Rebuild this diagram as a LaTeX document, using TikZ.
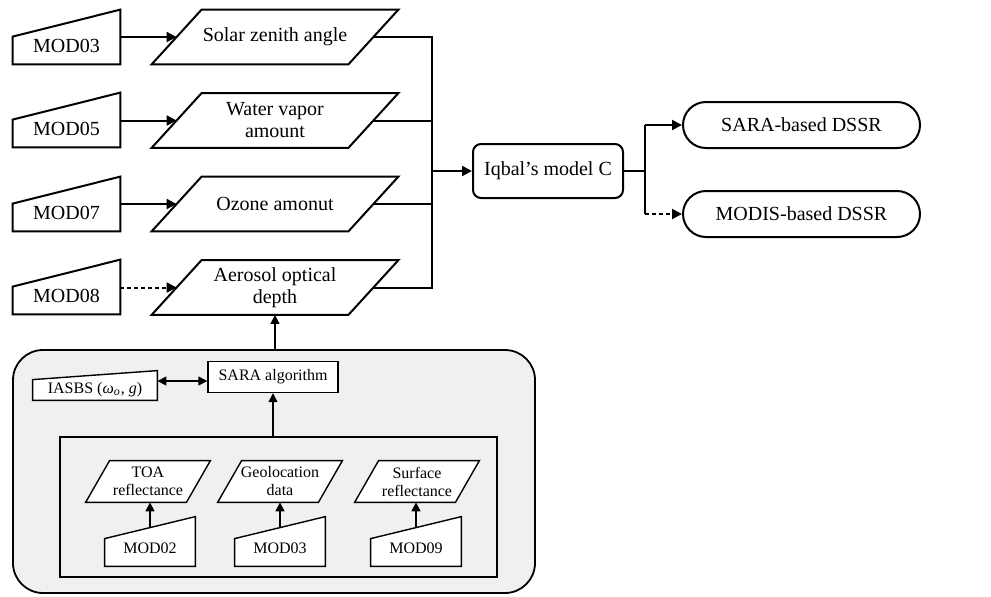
\documentclass[tikz,border=0pt]{standalone}
\usepackage{fontspec}
\setmainfont{Liberation Serif}
\usetikzlibrary{arrows.meta}

\pgfdeclarelayer{back}
\pgfdeclarelayer{edges}
\pgfdeclarelayer{shapes}
\pgfsetlayers{back,edges,shapes,main}

% manual input outline drawn round a named node
\newcommand\manin[3]{\filldraw[fill=white] (#1.south west) -- (#1.south east) -- ([yshift=#2]#1.north east) -- ([yshift=-#3]#1.north west) -- cycle;}
% parallelogram outline drawn round a named node
\newcommand\slant[2]{\filldraw[fill=white] ([xshift=-#2]#1.south west) -- ([xshift=-#2]#1.south east) -- ([xshift=#2]#1.north east) -- ([xshift=#2]#1.north west) -- cycle;}

\tikzset{
  big/.style={font=\fontsize{10}{11}\selectfont},
  small/.style={font=\fontsize{8}{9}\selectfont},
  para/.style={minimum width=98pt, minimum height=27pt, inner sep=1pt, align=center, big},
  spara/.style={minimum width=50pt, minimum height=20.5pt, inner sep=1pt, align=center, small},
  minput/.style={minimum width=53.5pt, minimum height=18pt, inner sep=0pt, big},
  sminput/.style={minimum width=45pt, minimum height=18pt, inner sep=0pt, small},
  outbox/.style={draw, fill=white, line width=1pt, minimum width=118.5pt,
    minimum height=23pt, rounded corners=11.5pt, big},
  arr/.style={-{Triangle[length=5pt,width=5pt]}, line width=1pt},
  sarr/.style={-{Triangle[length=4.5pt,width=4.5pt]}, line width=0.7pt},
  sarrboth/.style={{Triangle[length=4.5pt,width=4.5pt]}-{Triangle[length=4.5pt,width=4.5pt]}, line width=0.7pt},
  dashline/.style={dash pattern=on 2pt off 1.5pt}
}

\begin{document}
\begin{tikzpicture}[x=0.5pt,y=-0.5pt]
  \useasboundingbox (0,0) rectangle (991,596);

  % grey frames of the SARA part
  \begin{pgfonlayer}{back}
    \node[draw, fill=black!6, line width=0.9pt, rounded corners=15pt,
      minimum width=261pt, minimum height=121.5pt] (sarabox) at (274,471.5) {};
    \node[draw, fill=black!6, line width=0.9pt,
      minimum width=218.5pt, minimum height=70pt] (inbox) at (278.5,507) {};
  \end{pgfonlayer}

  % MODIS inputs and parameters
  \node[minput] (mod03) at (66.5,46) {MOD03};
  \node[minput] (mod05) at (66.5,129) {MOD05};
  \node[minput] (mod07) at (66.5,213) {MOD07};
  \node[minput] (mod08) at (66.5,296) {MOD08};
  \node[para] (solar) at (275,37) {Solar zenith angle};
  \node[para] (water) at (275,120.5) {Water vapor\\amount};
  \node[para] (ozone) at (275,204) {Ozone amonut};
  \node[para] (aod) at (275,287.5) {Aerosol optical\\depth};

  \node[draw, line width=1pt, rounded corners=4pt, minimum width=75pt,
    minimum height=27pt, big] (iqbal) at (548,171) {Iqbal’s model C};
  \node[outbox] (sarad) at (801.5,125) {SARA-based DSSR};
  \node[outbox] (modisd) at (801.5,214) {MODIS-based DSSR};
  \coordinate (jn) at (432,171);
  \coordinate (sp) at (645,171);

  % SARA algorithm
  \node[draw, fill=white, line width=0.7pt, minimum width=65pt,
    minimum height=15.5pt, small] (sara) at (273,377) {SARA algorithm};
  \node[sminput, minimum width=62pt, minimum height=10pt] (iasbs) at (95,390)
    {IASBS (\textit{ω}\textsubscript{\textit{o}}, \textit{g})};
  \node[spara] (toa) at (148,481.5) {TOA\\reflectance};
  \node[spara] (geo) at (280,481.5) {Geolocation\\data};
  \node[spara] (surf) at (417,481.5) {Surface\\reflectance};
  \node[sminput] (m02) at (150,548) {MOD02};
  \node[sminput] (m03) at (280,548) {MOD03};
  \node[sminput] (m09) at (416,548) {MOD09};

  \begin{pgfonlayer}{edges}
    \draw[arr] (mod03.east |- solar.west) -- (solar.west);
    \draw[arr] (mod05.east |- water.west) -- (water.west);
    \draw[arr] (mod07.east |- ozone.west) -- (ozone.west);
    \draw[arr, dashline] (mod08.east |- aod.west) -- (aod.west);
    \draw[line width=1pt] (solar.east) -| (jn);
    \draw[line width=1pt] (aod.east) -| (jn);
    \draw[line width=1pt] (water.east) -- (water.east -| jn);
    \draw[line width=1pt] (ozone.east) -- (ozone.east -| jn);
    \draw[arr] (jn) -- (iqbal.west);
    \draw[line width=1pt] (iqbal.east) -- (sp);
    \draw[line width=1pt] (sp |- sarad.west) -- (sp |- modisd.west);
    \draw[arr] (sp |- sarad.west) -- (sarad.west);
    \draw[arr, dashline] (sp |- modisd.west) -- (modisd.west);
    \draw[sarr] (aod.south |- sarabox.north) -- (aod.south);
    \draw[sarrboth] ([yshift=-2pt]iasbs.east |- sara.west) -- ([yshift=-2pt]sara.west);
    \draw[sarr] (sara.south |- inbox.north) -- (sara.south);
    \draw[sarr] (m02.north) -- (m02.north |- toa.south);
    \draw[sarr] (m03.north) -- (m03.north |- geo.south);
    \draw[sarr] (m09.north) -- (m09.north |- surf.south);
  \end{pgfonlayer}

  \begin{pgfonlayer}{shapes}
    \begin{scope}[line width=1pt]
      \foreach \n in {mod03,mod05,mod07,mod08} {\manin{\n}{9pt}{4.5pt}}
      \foreach \n in {solar,water,ozone,aod} {\slant{\n}{12.5pt}}
    \end{scope}
    \begin{scope}[line width=0.7pt]
      \foreach \n in {m02,m03,m09} {\manin{\n}{6.5pt}{4.5pt}}
      \manin{iasbs}{4.5pt}{0pt}
      \foreach \n in {toa,geo,surf} {\slant{\n}{6pt}}
    \end{scope}
  \end{pgfonlayer}
\end{tikzpicture}
\end{document}
